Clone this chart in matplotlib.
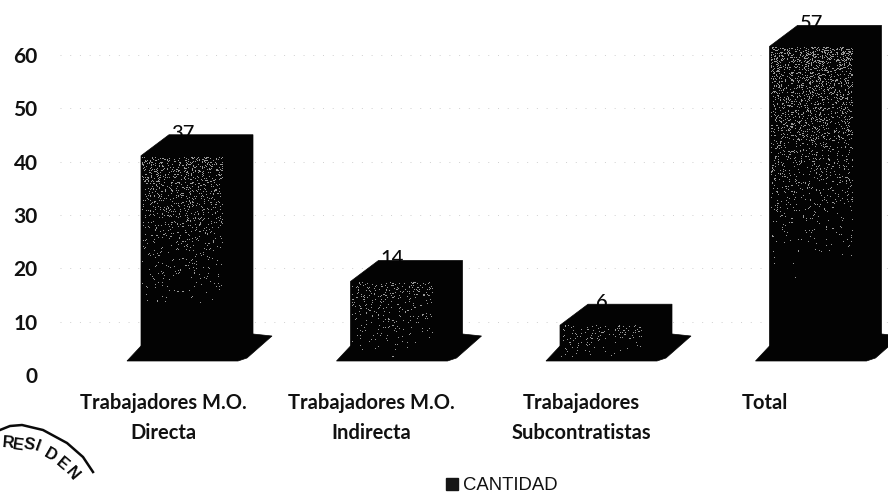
import numpy as np
import matplotlib
matplotlib.use("Agg")
import matplotlib.pyplot as plt
from matplotlib.patches import Polygon

categories = ["Trabajadores M.O.\nDirecta", "Trabajadores M.O.\nIndirecta",
              "Trabajadores\nSubcontratistas", "Total"]
values = [37, 14, 6, 57]
label_shift = [-0.095, -0.10, -0.10, -0.22]
y_ticks = [0, 10, 20, 30, 40, 50, 60]
series_name = "CANTIDAD"

W, H = 888, 495
fig = plt.figure(figsize=(W / 100, H / 100), dpi=100)
ax = fig.add_axes([0, 0, 1, 1])
PX_X, X0 = 209.5, 183.0
PX_Y, Y0 = 5.333, 375.0
xlim = (-X0 / PX_X, (W - X0) / PX_X)
ylim = ((Y0 - H) / PX_Y, Y0 / PX_Y)

def dx(p):
    return p / PX_X
def dy(p):
    return p / PX_Y
def P(px, py):
    return ((px - X0) / PX_X, (Y0 - py) / PX_Y)

BLACK = "#030303"
FONT = "Lato"
half = dx(42)
depth_x, depth_y = dx(28), dy(21)
floor_base = dy(Y0 - 358)
scale = 1.025

ax.hlines(y_ticks[1:], P(60, 0)[0], xlim[1], colors="#cfcfcf", linewidth=0.7,
          linestyles=(0, (1, 9)), zorder=1)

for i, v in enumerate(values):
    top = floor_base + v * scale
    l, r = i - half, i + half
    ax.text(i, top + depth_y - dy(4), str(v), ha="center", va="baseline",
            fontsize=14.5, family=FONT, weight="medium", color="#0a0a0a", zorder=2)
    bottom = floor_base - dy(3)
    floor = [(l, floor_base + dy(12)), (l - dx(14), bottom), (r + dx(13), bottom),
             (r + dx(22), bottom + dy(3)), (r + depth_x + dx(19), floor_base + dy(22)),
             (r + depth_x, floor_base + dy(24))]
    ax.add_patch(Polygon(floor, closed=True, fc=BLACK, ec=BLACK, lw=0.5, zorder=3))
    ax.add_patch(Polygon([(l, floor_base), (l, top), (l + depth_x, top + depth_y),
                          (r + depth_x, top + depth_y), (r + depth_x, floor_base + depth_y),
                          (r, floor_base)], closed=True, fc=BLACK, ec=BLACK, lw=0.5, zorder=3))
    # scanned halftone texture on the front face, fading downward
    n_h, n_w = int(v * scale * PX_Y), 80
    yy, xx = np.mgrid[0:n_h, 0:n_w]
    hash_ = np.modf(np.sin((xx + 3 * i) * 12.9898 + yy * 78.233) * 43758.5453)[0]
    fade = 0.65 * n_h + 30.0
    dens = (0.05 + 0.003 * v) * np.clip(1 - yy / fade, 0, 1) ** 1.3
    rgba = np.zeros((n_h, n_w, 4))
    rgba[..., :3] = 1
    rgba[..., 3] = (np.abs(hash_) < dens) * 0.6
    ax.imshow(rgba, extent=(l + dx(1), r - dx(2), top - dy(n_h), top - dy(1)), aspect="auto",
              interpolation="nearest", origin="upper", zorder=4)

ax.set_xlim(*xlim)
ax.set_ylim(*ylim)
for s in ax.spines.values():
    s.set_visible(False)
ax.patch.set_alpha(0)

ax.set_yticks(y_ticks)
ax.tick_params(axis="y", length=0, direction="in", pad=-27)
for t in ax.get_yticklabels():
    t.set(family=FONT, weight="bold", fontsize=15, color="#111111", ha="right", va="center_baseline")

ax.set_xticks([])
for i, name in enumerate(categories):
    ax.text(i + label_shift[i], P(0, 393)[1], name, ha="center", va="top", family=FONT,
            weight="bold", fontsize=14.5, color="#111111", linespacing=1.62, zorder=5)

# legend
ax.add_patch(Polygon([P(446, 478), P(458, 478), P(458, 490), P(446, 490)], closed=True,
                     fc="#151515", ec="#151515", zorder=5))
ax.text(*P(463, 485), series_name, ha="left", va="center", family="Liberation Sans",
        fontsize=13.3, color="#111111")

# stamp fragment in the lower-left corner
arc = [P(0, 430), P(10, 426), P(22, 425), P(43, 430), P(67, 443), P(83, 457), P(93, 472)]
ax.plot(*zip(*arc), color="#0a0a0a", lw=1.8, zorder=5)
letters = [("R", 8, 443, -5), ("E", 18, 445, -8), ("S", 29, 445, -12), ("I", 38, 447, -20),
           ("D", 50, 455, -30), ("E", 62, 464, -40), ("N", 72, 474, -50)]
for ch, px, py, rot in letters:
    ax.text(*P(px, py), ch, rotation=rot, ha="center", va="center", family="Liberation Sans",
            weight="bold", fontsize=12, color="#0a0a0a")

fig.savefig("out.png", dpi=100, facecolor="white")
